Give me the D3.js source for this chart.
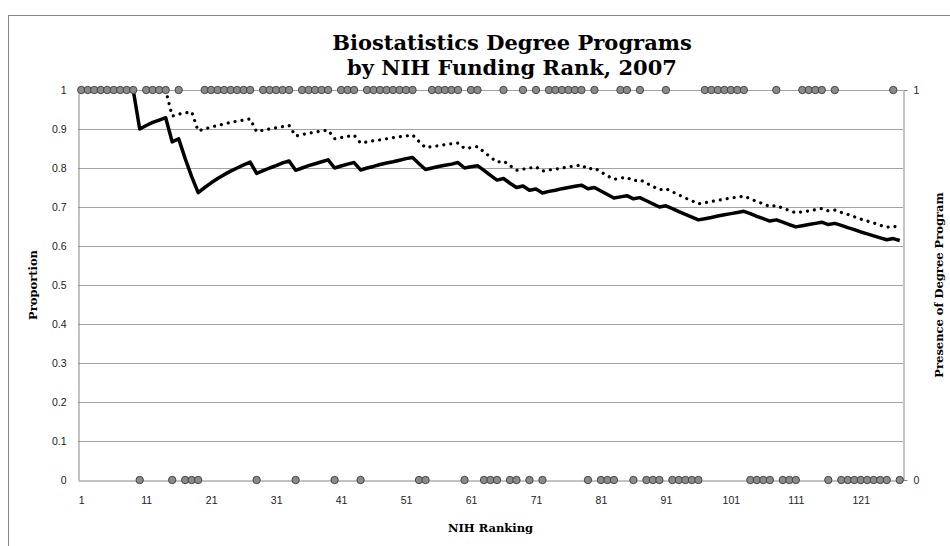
<!DOCTYPE html>
<html>
<head>
<meta charset="utf-8">
<script src="https://cdn.jsdelivr.net/npm/d3@7/dist/d3.min.js"></script>
<style>
  body { margin: 0; background: #fff; }
  svg { display: block; }
</style>
</head>
<body>
<svg width="950" height="546"></svg>
<script>
var titleLines = ["Biostatistics Degree Programs", "by NIH Funding Rank, 2007"]
var xTitle = "NIH Ranking"
var yTitle = "Proportion"
var y2Title = "Presence of Degree Program"

var xTickLabels = [1, 11, 21, 31, 41, 51, 61, 71, 81, 91, 101, 111, 121]
var yTickLabels = [0, 0.1, 0.2, 0.3, 0.4, 0.5, 0.6, 0.7, 0.8, 0.9, 1]
var y2TickLabels = [0, 1]

// presence of a degree program, rank 1..127
var presence = [
  1,1,1,1,1,1,1,1,1,0,
  1,1,1,1,0,1,0,0,0,1,
  1,1,1,1,1,1,1,0,1,1,
  1,1,1,0,1,1,1,1,1,0,
  1,1,1,0,1,1,1,1,1,1,
  1,1,0,0,1,1,1,1,1,0,
  1,1,0,0,0,1,0,0,1,0,
  1,0,1,1,1,1,1,1,0,1,
  0,0,0,1,1,0,1,0,0,0,
  1,0,0,0,0,0,1,1,1,1,
  1,1,1,0,0,0,0,1,0,0,
  0,1,1,1,1,0,1,0,0,0,
  0,0,0,0,0,1,0
]

// solid line
var proportion = [
  1,1,1,1,1,1,1,1,1,0.9,
  0.909,0.917,0.923,0.929,0.867,0.875,0.824,0.778,0.737,0.75,
  0.762,0.773,0.783,0.792,0.8,0.808,0.815,0.786,0.793,0.8,
  0.806,0.813,0.818,0.794,0.8,0.806,0.811,0.816,0.821,0.8,
  0.805,0.81,0.814,0.795,0.8,0.804,0.809,0.813,0.816,0.82,
  0.824,0.827,0.811,0.796,0.8,0.804,0.807,0.81,0.814,0.8,
  0.803,0.806,0.794,0.781,0.769,0.773,0.761,0.75,0.754,0.743,
  0.746,0.736,0.74,0.743,0.747,0.75,0.753,0.756,0.747,0.75,
  0.741,0.732,0.723,0.726,0.729,0.721,0.724,0.716,0.708,0.7,
  0.703,0.696,0.688,0.681,0.674,0.667,0.67,0.673,0.677,0.68,
  0.683,0.686,0.689,0.683,0.676,0.67,0.664,0.667,0.661,0.655,
  0.649,0.652,0.655,0.658,0.661,0.655,0.658,0.653,0.647,0.642,
  0.636,0.631,0.626,0.621,0.616,0.619,0.614
]

// dotted line (starts at rank 14)
var proportionDotted = [
  null,null,null,null,null,null,null,null,null,null,
  null,null,null,1,0.933,0.938,0.941,0.944,0.895,0.9,
  0.905,0.909,0.913,0.917,0.92,0.923,0.926,0.893,0.897,0.9,
  0.903,0.906,0.909,0.882,0.886,0.889,0.892,0.895,0.897,0.875,
  0.878,0.881,0.884,0.864,0.867,0.87,0.872,0.875,0.878,0.88,
  0.882,0.885,0.868,0.852,0.855,0.857,0.86,0.862,0.864,0.85,
  0.852,0.855,0.841,0.828,0.815,0.818,0.806,0.794,0.797,0.8,
  0.803,0.792,0.795,0.797,0.8,0.803,0.805,0.808,0.797,0.8,
  0.79,0.78,0.771,0.774,0.776,0.767,0.77,0.761,0.753,0.744,
  0.747,0.739,0.731,0.723,0.716,0.708,0.711,0.714,0.717,0.72,
  0.723,0.725,0.728,0.721,0.714,0.708,0.701,0.704,0.697,0.691,
  0.685,0.688,0.69,0.693,0.696,0.69,0.692,0.686,0.681,0.675,
  0.669,0.664,0.659,0.653,0.648,0.651,0.646
]

var ranks = presence.map(function(d, i) { return i + 1 })

var plot = {left: 78, right: 903, top: 90, bottom: 480}
var serif = "'DejaVu Serif', serif"
var sans = "'Liberation Sans', Arial, sans-serif"
var axisGrey = "#868686"

var svg = d3.select("svg")

// chart area border (cropped at right / bottom)
svg.append("rect")
  .attr("x", 8.5).attr("y", 15.5)
  .attr("width", 1100).attr("height", 700)
  .attr("fill", "none")
  .attr("stroke", axisGrey)

var x = d3.scalePoint()
  .domain(ranks)
  .range([plot.left, plot.right])
  .padding(0.5)

var y = d3.scaleLinear().domain([0, 1]).range([plot.bottom, plot.top])
var y2 = d3.scaleLinear().domain([0, 1]).range([plot.bottom, plot.top])

// gridlines
svg.append("g")
  .selectAll("line")
  .data(yTickLabels.filter(function(d) { return d > 0 }))
  .enter().append("line")
  .attr("x1", plot.left).attr("x2", plot.right)
  .attr("y1", function(d) { return Math.round(y(d)) + 0.5 })
  .attr("y2", function(d) { return Math.round(y(d)) + 0.5 })
  .attr("stroke", "#a3a3a3")
  .attr("stroke-width", 1)

// axes
var gLeft = svg.append("g")
  .attr("transform", "translate(" + (plot.left + 0.5) + ",0)")
  .call(d3.axisLeft(y).tickValues(yTickLabels).tickSize(0).tickSizeOuter(0).tickPadding(12)
    .tickFormat(function(d) { return String(d) }))

var gBottom = svg.append("g")
  .attr("transform", "translate(0," + (plot.bottom + 0.5) + ")")
  .call(d3.axisBottom(x).tickValues(xTickLabels).tickSize(0).tickSizeOuter(0).tickPadding(16))

var gRight = svg.append("g")
  .attr("transform", "translate(" + (plot.right + 0.5) + ",0)")
  .call(d3.axisRight(y2).tickValues(y2TickLabels).tickSize(4).tickSizeOuter(0).tickPadding(6)
    .tickFormat(function(d) { return String(d) }))

;[gLeft, gBottom, gRight].forEach(function(g) {
  g.select(".domain").attr("stroke", axisGrey)
  g.selectAll(".tick line").attr("stroke", axisGrey)
  g.selectAll("text")
    .attr("font-family", sans)
    .attr("font-size", "10.5px")
    .attr("fill", "#222")
})

// lines
var solidLine = d3.line()
  .x(function(d) { return x(d.rank) })
  .y(function(d) { return y(d.value) })

var dottedLine = d3.line()
  .defined(function(d) { return d.value != null })
  .x(function(d) { return x(d.rank) })
  .y(function(d) { return y(d.value) })

svg.append("path")
  .datum(ranks.map(function(r, i) { return {rank: r, value: proportion[i]} }))
  .attr("d", solidLine)
  .attr("fill", "none")
  .attr("stroke", "#000")
  .attr("stroke-width", 3.5)
  .attr("stroke-linejoin", "round")

svg.append("path")
  .datum(ranks.map(function(r, i) { return {rank: r, value: proportionDotted[i]} }))
  .attr("d", dottedLine)
  .attr("fill", "none")
  .attr("stroke", "#000")
  .attr("stroke-width", 3.2)
  .attr("stroke-linecap", "round")
  .attr("stroke-dasharray", "0.01 7")

// presence markers on the secondary axis
svg.append("g")
  .selectAll("circle")
  .data(presence)
  .enter().append("circle")
  .attr("cx", function(d, i) { return x(ranks[i]) })
  .attr("cy", function(d) { return y2(d) })
  .attr("r", 3.7)
  .attr("fill", "#8a8a8a")
  .attr("stroke", "#3c3c3c")
  .attr("stroke-width", 0.9)

// titles
var title = svg.append("text")
  .attr("text-anchor", "middle")
  .attr("font-family", serif)
  .attr("font-weight", "bold")
  .attr("font-size", "21px")
  .attr("fill", "#000")

title.selectAll("tspan")
  .data(titleLines)
  .enter().append("tspan")
  .attr("x", 512)
  .attr("y", function(d, i) { return 50 + i * 25 })
  .text(function(d) { return d })

svg.append("text")
  .attr("x", (plot.left + plot.right) / 2)
  .attr("y", 532)
  .attr("text-anchor", "middle")
  .attr("font-family", serif)
  .attr("font-weight", "bold")
  .attr("font-size", "11.5px")
  .text(xTitle)

svg.append("text")
  .attr("transform", "translate(37," + (plot.top + plot.bottom) / 2 + ") rotate(-90)")
  .attr("text-anchor", "middle")
  .attr("font-family", serif)
  .attr("font-weight", "bold")
  .attr("font-size", "11.5px")
  .text(yTitle)

svg.append("text")
  .attr("transform", "translate(943," + (plot.top + plot.bottom) / 2 + ") rotate(-90)")
  .attr("text-anchor", "middle")
  .attr("font-family", serif)
  .attr("font-weight", "bold")
  .attr("font-size", "11.5px")
  .text(y2Title)
</script>
</body>
</html>
